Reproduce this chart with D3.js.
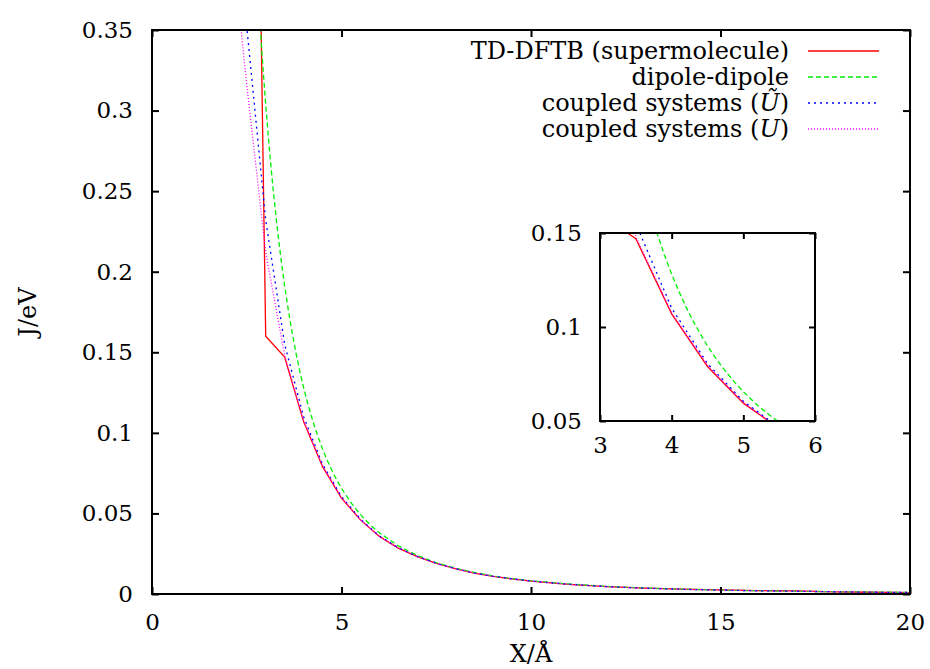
<!DOCTYPE html>
<html>
<head>
<meta charset="utf-8">
<script src="https://cdn.jsdelivr.net/npm/d3@7"></script>
<style>
  body { margin: 0; background: #fff; }
  text { font-family: "DejaVu Serif", serif; fill: #000; }
</style>
</head>
<body>
<svg id="drawing_region"></svg>
<script>
// separation (Angstrom) and couplings (eV)
const distances = [2, 2.5, 3, 3.5, 4, 4.5, 5, 5.5, 6, 6.5, 7, 7.5, 8, 8.5, 9, 9.5, 10,
                   11, 12, 13, 14, 15, 16, 17, 18, 19, 20];
const tddftb = [1.6, 0.95, 0.160, 0.147, 0.107, 0.079, 0.0595, 0.046, 0.0357, 0.0285, 0.0232, 0.019, 0.0157, 0.013, 0.011, 0.0094, 0.0080,
                0.0060, 0.0046, 0.0036, 0.0030, 0.0025, 0.0021, 0.0019, 0.0013, 0.0011, 0.0009];
const coupledTilde = [0.55, 0.352, 0.232, 0.155, 0.110, 0.0805, 0.0605, 0.0465, 0.036, 0.0287, 0.0233, 0.0191, 0.0158, 0.013, 0.011, 0.0094, 0.0080,
                0.0060, 0.0046, 0.0036, 0.0029, 0.0024, 0.0020, 0.0017, 0.0014, 0.0011, 0.0009];
const coupledU = [0.43, 0.316, 0.212, 0.148, 0.1075, 0.0795, 0.0598, 0.046, 0.0357, 0.0285, 0.0232, 0.019, 0.0157, 0.013, 0.011, 0.0094, 0.0080,
                0.0060, 0.0046, 0.0036, 0.0029, 0.0024, 0.0020, 0.0017, 0.0014, 0.0011, 0.0009];

// the dipole-dipole curve is drawn smooth, so it is sampled more finely
const dipoleDistances = [2.6, 2.7, 2.8, 2.9, 3.0, 3.1, 3.2, 3.3, 3.4, 3.5, 3.6, 3.7, 3.8, 3.9, 4.0, 4.1, 4.2, 4.3, 4.4, 4.5,
                         4.6, 4.7, 4.8, 4.9, 5.0, 5.2, 5.4, 5.6, 5.8, 6.0, 6.5, 7, 7.5, 8, 8.5, 9, 9.5, 10,
                         11, 12, 13, 14, 15, 16, 17, 18, 19, 20];
const dipole = [0.466, 0.417, 0.3735, 0.336, 0.3037, 0.2752, 0.2502, 0.2282, 0.2086, 0.1913, 0.1758, 0.1619, 0.1494, 0.1382, 0.1281,
                0.119, 0.1107, 0.1031, 0.0963, 0.090, 0.0842, 0.079, 0.0742, 0.0697, 0.0656, 0.0583, 0.0521, 0.0467, 0.042, 0.038,
                0.0299, 0.0239, 0.0194, 0.016, 0.0134, 0.0112, 0.0096, 0.0082,
                0.0062, 0.0047, 0.0037, 0.0030, 0.0024, 0.0020, 0.0017, 0.0014, 0.0012, 0.0010];

const seriesNames = ["TD-DFTB (supermolecule)", "dipole-dipole", "coupled systems (Ũ)", "coupled systems (U)"];
const xTicks = [0, 5, 10, 15, 20];
const yTicks = [0, 0.05, 0.1, 0.15, 0.2, 0.25, 0.3, 0.35];
const insetXTicks = [3, 4, 5, 6];
const insetYTicks = [0.05, 0.1, 0.15];

const series = [
    { name: seriesNames[0], xs: distances, values: tddftb, color: "#ff0000", dash: null },
    { name: seriesNames[1], xs: dipoleDistances, values: dipole, color: "#00ee00", dash: "5,3" },
    { name: seriesNames[2], xs: distances, values: coupledTilde, color: "#0000ff", dash: "2,4" },
    { name: seriesNames[3], xs: distances, values: coupledU, color: "#ff00ff", dash: "1,2" }
];
series.forEach(s => { s.points = s.xs.map((d, i) => ({ x: d, y: s.values[i] })); });

const svg = d3.select("#drawing_region").attr("width", 930).attr("height", 669);

function panel(opt) {
    const x = d3.scaleLinear().domain(opt.xdom).range([opt.left, opt.right]);
    const y = d3.scaleLinear().domain(opt.ydom).range([opt.bottom, opt.top]);
    const g = svg.append("g");

    g.append("clipPath").attr("id", opt.id)
        .append("rect")
        .attr("x", opt.left).attr("y", opt.top)
        .attr("width", opt.right - opt.left).attr("height", opt.bottom - opt.top);

    const line = d3.line().x(d => x(d.x)).y(d => y(d.y));
    g.append("g").attr("clip-path", `url(#${opt.id})`)
        .selectAll("path").data(series).join("path")
        .attr("d", d => line(d.points))
        .attr("fill", "none")
        .attr("stroke", d => d.color)
        .attr("stroke-width", 1.3)
        .attr("stroke-dasharray", d => d.dash);

    const tl = opt.tick;
    const bottomAxis = g.append("g").attr("transform", `translate(0,${opt.bottom})`)
        .call(d3.axisBottom(x).tickValues(opt.xticks).tickSize(-tl).tickPadding(opt.xpad).tickFormat(d3.format("")));
    const topAxis = g.append("g").attr("transform", `translate(0,${opt.top})`)
        .call(d3.axisTop(x).tickValues(opt.xticks).tickSize(-tl).tickFormat(""));
    const leftAxis = g.append("g").attr("transform", `translate(${opt.left},0)`)
        .call(d3.axisLeft(y).tickValues(opt.yticks).tickSize(-tl).tickPadding(opt.ypad).tickFormat(d3.format("")));
    const rightAxis = g.append("g").attr("transform", `translate(${opt.right},0)`)
        .call(d3.axisRight(y).tickValues(opt.yticks).tickSize(-tl).tickFormat(""));

    [bottomAxis, topAxis, leftAxis, rightAxis].forEach(a => {
        a.select(".domain").remove();
        a.selectAll("line").attr("stroke", "#000").attr("stroke-width", 2);
        a.selectAll("text").attr("font-size", 23).attr("font-family", "DejaVu Serif").attr("fill", "#000");
    });

    g.append("rect")
        .attr("x", opt.left).attr("y", opt.top)
        .attr("width", opt.right - opt.left).attr("height", opt.bottom - opt.top)
        .attr("fill", "none").attr("stroke", "#000").attr("stroke-width", 2);
    return g;
}

panel({ id: "clipMain", left: 152, right: 910, top: 30, bottom: 594,
        xdom: [0, 20], ydom: [0, 0.35], xticks: xTicks, yticks: yTicks,
        tick: 7, xpad: 20, ypad: 19 });

panel({ id: "clipInset", left: 600, right: 815, top: 233, bottom: 421,
        xdom: [3, 6], ydom: [0.05, 0.15], xticks: insetXTicks, yticks: insetYTicks,
        tick: 6, xpad: 16, ypad: 18 });

// axis titles
svg.append("text")
    .attr("x", 531).attr("y", 662)
    .attr("text-anchor", "middle").attr("font-size", 24)
    .text("X/Å");

svg.append("text")
    .attr("transform", "translate(36,312) rotate(-90)")
    .attr("text-anchor", "middle").attr("font-size", 24)
    .text("J/eV");

// legend
const legend = svg.append("g");
series.forEach((s, i) => {
    const ly = 51 + i * 26;
    const t = legend.append("text")
        .attr("x", 789).attr("y", ly + 8)
        .attr("text-anchor", "end").attr("font-size", 24);
    if (i < 2) {
        t.text(s.name);
    } else {
        t.append("tspan").text("coupled systems (");
        t.append("tspan").attr("font-style", "italic").text(i === 2 ? "Ũ" : "U");
        t.append("tspan").text(")");
    }
    legend.append("line")
        .attr("x1", 808).attr("x2", 879)
        .attr("y1", ly).attr("y2", ly)
        .attr("stroke", s.color).attr("stroke-width", 1.3)
        .attr("stroke-dasharray", s.dash);
});
</script>
</body>
</html>
